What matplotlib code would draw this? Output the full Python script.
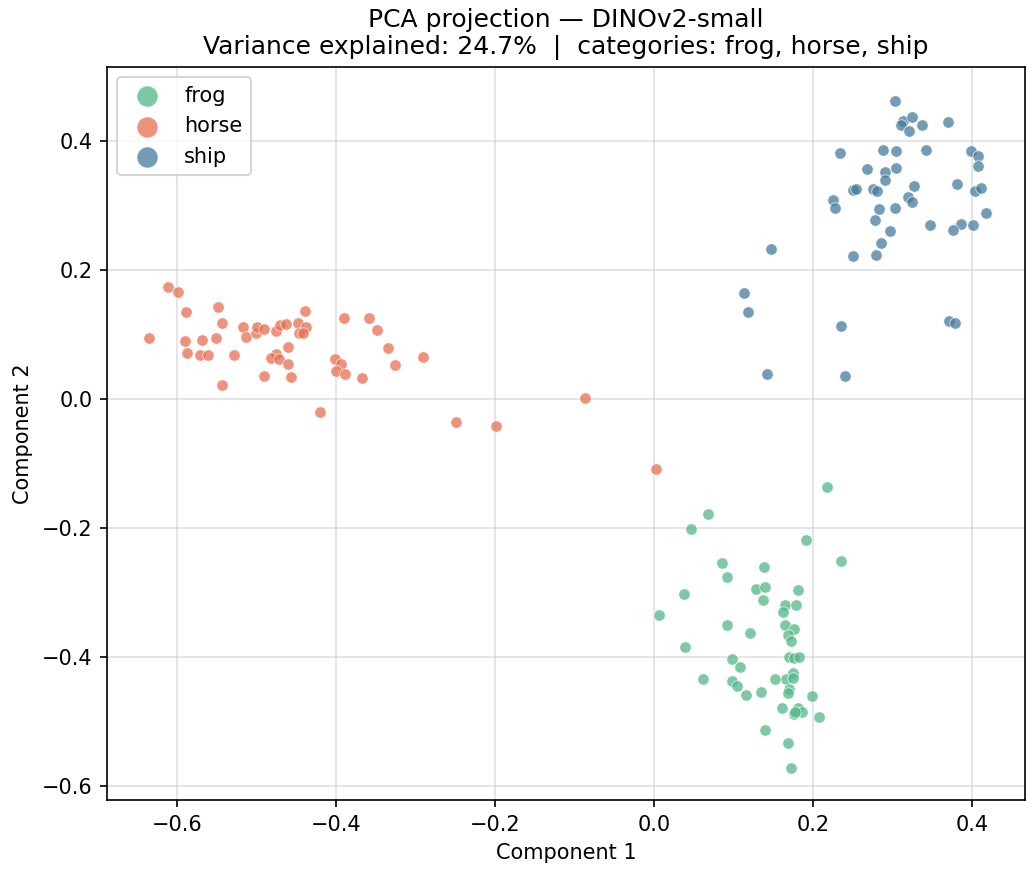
import matplotlib
matplotlib.use("Agg")
import matplotlib.pyplot as plt

categories = ["frog", "horse", "ship"]
colors = {"frog": "#52b788", "horse": "#e76f51", "ship": "#457b9d"}

frog_x = [0.218, 0.068, 0.047, 0.192, 0.235, 0.086, 0.139, 0.092, 0.129, 0.140,
          0.182, 0.138, 0.038, 0.165, 0.179, 0.162, 0.007, 0.092, 0.121, 0.165,
          0.177, 0.169, 0.172, 0.039, 0.099, 0.109, 0.170, 0.176, 0.183, 0.062,
          0.098, 0.105, 0.116, 0.135, 0.152, 0.166, 0.175, 0.175, 0.170, 0.169,
          0.199, 0.161, 0.182, 0.176, 0.187, 0.178, 0.208, 0.140, 0.169, 0.172]
frog_y = [-0.137, -0.178, -0.201, -0.219, -0.252, -0.255, -0.260, -0.276, -0.294, -0.291,
          -0.297, -0.312, -0.302, -0.319, -0.319, -0.331, -0.335, -0.350, -0.363, -0.350,
          -0.356, -0.366, -0.375, -0.385, -0.403, -0.415, -0.400, -0.401, -0.400, -0.434,
          -0.437, -0.445, -0.459, -0.454, -0.434, -0.434, -0.425, -0.433, -0.450, -0.456,
          -0.460, -0.480, -0.480, -0.488, -0.486, -0.485, -0.494, -0.514, -0.534, -0.572]

horse_x = [-0.611, -0.599, -0.588, -0.548, -0.543, -0.635, -0.590, -0.568, -0.551, -0.587,
           -0.571, -0.561, -0.528, -0.543, -0.517, -0.513, -0.501, -0.499, -0.490, -0.476,
           -0.470, -0.463, -0.448, -0.439, -0.438, -0.447, -0.441, -0.460, -0.476, -0.482,
           -0.471, -0.460, -0.491, -0.457, -0.390, -0.358, -0.348, -0.335, -0.326, -0.291,
           -0.401, -0.394, -0.400, -0.388, -0.367, -0.420, -0.249, -0.199, -0.087, 0.003]
horse_y = [0.173, 0.166, 0.135, 0.143, 0.118, 0.094, 0.090, 0.092, 0.094, 0.071,
           0.068, 0.069, 0.068, 0.021, 0.112, 0.096, 0.102, 0.112, 0.108, 0.106,
           0.115, 0.116, 0.118, 0.137, 0.112, 0.102, 0.102, 0.080, 0.070, 0.063,
           0.062, 0.054, 0.036, 0.034, 0.126, 0.126, 0.107, 0.079, 0.053, 0.065,
           0.062, 0.054, 0.043, 0.039, 0.032, -0.020, -0.036, -0.042, 0.002, -0.109]

ship_x = [0.303, 0.314, 0.325, 0.311, 0.321, 0.337, 0.370, 0.234, 0.288, 0.305,
          0.343, 0.399, 0.408, 0.408, 0.268, 0.291, 0.305, 0.291, 0.251, 0.254,
          0.276, 0.281, 0.327, 0.381, 0.404, 0.412, 0.225, 0.228, 0.320, 0.325,
          0.283, 0.303, 0.278, 0.418, 0.348, 0.387, 0.377, 0.402, 0.297, 0.286,
          0.250, 0.280, 0.148, 0.114, 0.118, 0.235, 0.371, 0.379, 0.142, 0.241]
ship_y = [0.463, 0.431, 0.437, 0.425, 0.416, 0.425, 0.429, 0.381, 0.387, 0.385,
          0.386, 0.385, 0.377, 0.361, 0.357, 0.352, 0.359, 0.339, 0.324, 0.325,
          0.325, 0.323, 0.330, 0.333, 0.322, 0.328, 0.308, 0.297, 0.313, 0.306,
          0.294, 0.296, 0.278, 0.289, 0.270, 0.272, 0.262, 0.270, 0.260, 0.242,
          0.222, 0.223, 0.232, 0.164, 0.135, 0.113, 0.121, 0.118, 0.039, 0.035]

data = {"frog": (frog_x, frog_y), "horse": (horse_x, horse_y), "ship": (ship_x, ship_y)}

fig = plt.figure(figsize=(1026 / 150, 869 / 150), dpi=150)
ax = fig.add_axes([0.1043, 0.0794, 0.8947, 0.8435])

for cat in categories:
    xs, ys = data[cat]
    ax.scatter(xs, ys, s=30, color=colors[cat], alpha=0.75, edgecolors="white",
               linewidths=0.4, label=cat, zorder=3)

ax.set_xlim(-0.688, 0.467)
ax.set_ylim(-0.622, 0.515)
ax.set_xticks([-0.6, -0.4, -0.2, 0.0, 0.2, 0.4])
ax.set_yticks([-0.6, -0.4, -0.2, 0.0, 0.2, 0.4])
ax.tick_params(labelsize=10)
ax.grid(True, color="#cccccc", alpha=0.6, linewidth=0.8)
ax.set_axisbelow(True)
ax.set_xlabel("Component 1", fontsize=10)
ax.set_ylabel("Component 2", fontsize=10)
ax.set_title("PCA projection — DINOv2-small\nVariance explained: 24.7%  |  categories: frog, horse, ship",
             fontsize=12)
ax.legend(loc="upper left", fontsize=10, markerscale=1.85, frameon=True)

fig.savefig("out.png", dpi=150)
